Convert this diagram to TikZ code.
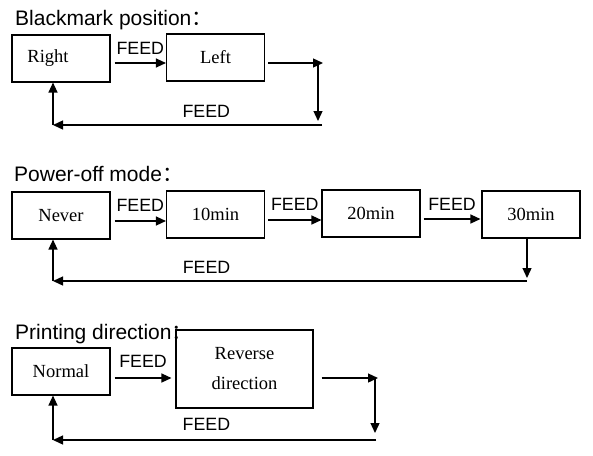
\documentclass[tikz,border=0pt]{standalone}
\usepackage{fontspec}
\setmainfont{Liberation Serif}
\setsansfont{Liberation Sans}
\newfontfamily\cjk{Noto Sans CJK SC}
\usetikzlibrary{arrows.meta}

\tikzset{
  box/.style={draw, line width=1.1pt, minimum width=98pt, minimum height=47pt, inner sep=0pt, font=\fontsize{18.5}{22}\selectfont},
  feed/.style={line width=1.3pt, -{Triangle[length=10pt,width=9pt]}},
  lbl/.style={font=\sffamily\fontsize{17.8}{20}\selectfont, inner sep=0pt},
  ttl/.style={font=\sffamily\fontsize{21}{24}\selectfont, anchor=base west, inner sep=0pt}
}

\begin{document}
\begin{tikzpicture}[x=1pt,y=-1pt]
\useasboundingbox (0,0) rectangle (593,455);

% Blackmark position
{
\node[ttl] (t1) at (15,25) {Blackmark position{\cjk ：}};
\node[box] (right) at (61,58.5) {Right\kern26pt\mbox{}};
\node[box] (left) at (215.5,57.5) {Left};

\coordinate (b1) at (323,63);
\coordinate (b2) at (318,63);
\coordinate (b3) at (318,121);
\coordinate (b4) at (322,125);
\coordinate (b5) at (53,125);

\draw[feed] ([xshift=4pt,yshift=-4.5pt]right.east) -- node[lbl, above=8pt] (f1) {FEED} ([yshift=-5.5pt]left.west);
\draw[feed] ([xshift=3pt,yshift=-5.5pt]left.east) -- (b1);
\draw[feed] (b2) -- (b3);
\draw[feed] (b4) -- node[lbl, above=7pt, pos=0.43] (f2) {FEED} (b5);
\draw[feed] (b5) -- (right.south -| b5);
}

% Power-off mode
{
\node[ttl] (t2) at (14,181) {Power-off mode{\cjk ：}};
\node[box] (never) at (61,215.5) {Never};
\node[box] (m10) at (215.5,214.5) {10min};
\node[box] (m20) at (371,213.5) {20min};
\node[box] (m30) at (531,214.5) {30min};

\coordinate (p1) at (527,278);
\coordinate (p2) at (527,281);
\coordinate (p3) at (53,281);

\draw[feed] ([xshift=4pt,yshift=-5.5pt]never.east) -- node[lbl, above=9pt] (f3) {FEED} ([yshift=-6.5pt]m10.west);
\draw[feed] ([xshift=3pt,yshift=-5.5pt]m10.east) -- node[lbl, above=9pt] (f4) {FEED} ([yshift=-6.5pt]m20.west);
\draw[feed] ([xshift=3pt,yshift=-5.5pt]m20.east) -- node[lbl, above=8pt] (f5) {FEED} ([xshift=-1pt,yshift=-4.5pt]m30.west);
\draw[feed] (m30.south -| p1) -- (p1);
\draw[feed] (p2) -- node[lbl, above=7pt, pos=0.676] (f6) {FEED} (p3);
\draw[feed] (p3) -- (never.south -| p3);
}

% Printing direction
{
\node[ttl] (t3) at (15,339) {Printing direction{\cjk ：}};
\node[box] (normal) at (61,371.5) {Normal};
\node[box, minimum width=137pt, minimum height=78pt, align=center] (reverse) at (244.5,369) {\raisebox{-2pt}{Reverse}\\[10pt]direction};

\coordinate (q1) at (378,378);
\coordinate (q2) at (375,378);
\coordinate (q3) at (375,433);
\coordinate (q4) at (376,440);
\coordinate (q5) at (53,440);

\draw[feed] ([xshift=4pt,yshift=-6.5pt]normal.east) -- node[lbl, above=10pt] (f7) {FEED} ([xshift=-4pt,yshift=-9pt]reverse.west);
\draw[feed] ([xshift=8pt,yshift=-9pt]reverse.east) -- (q1);
\draw[feed] (q2) -- (q3);
\draw[feed] (q4) -- node[lbl, above=9pt, pos=0.525] (f8) {FEED} (q5);
\draw[feed] (q5) -- (normal.south -| q5);
}

\end{tikzpicture}
\end{document}
